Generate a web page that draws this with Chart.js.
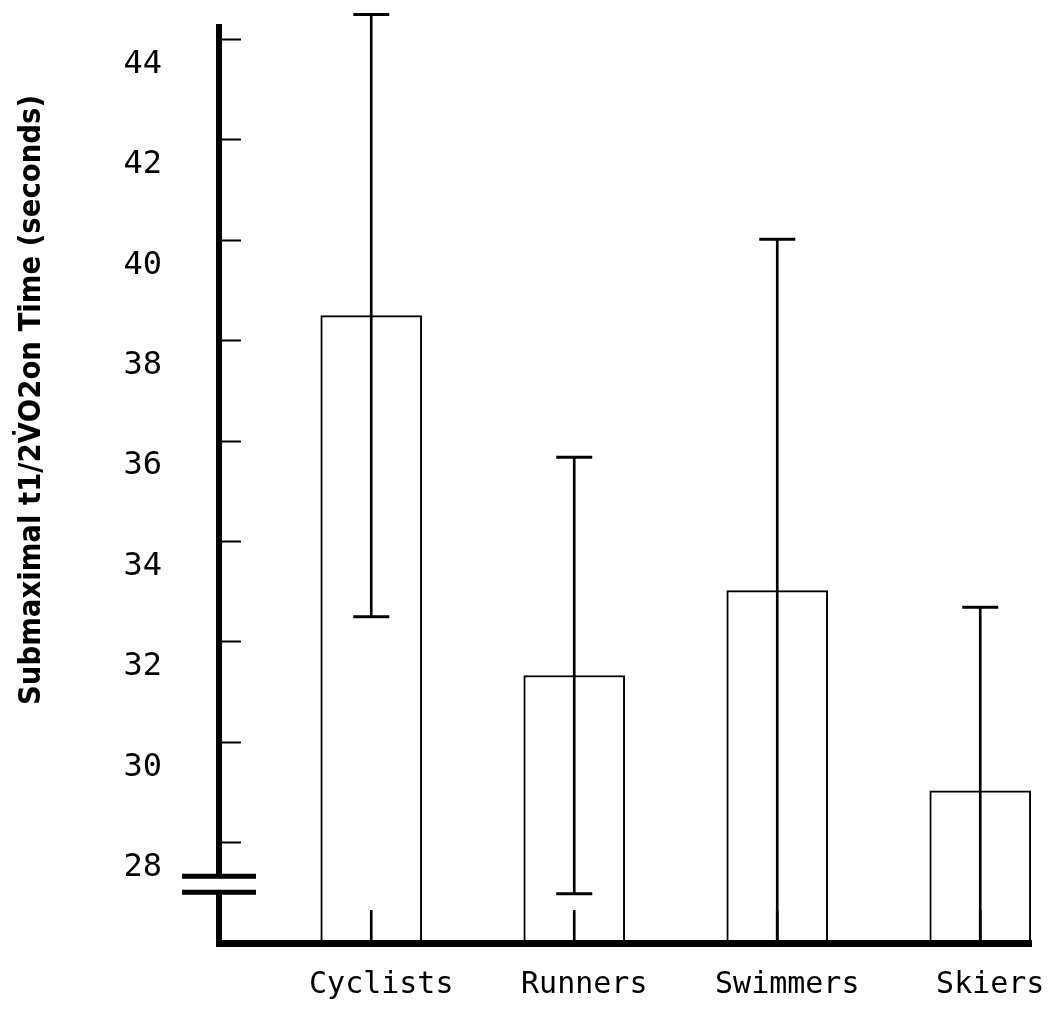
<!DOCTYPE html>
<html>
<head>
<meta charset="utf-8">
<title>Submaximal half-time</title>
<script src="https://cdn.jsdelivr.net/npm/chart.js@4.4.1/dist/chart.umd.min.js"></script>
<style>
body{margin:0;background:#fff;}
canvas{display:block;}
</style>
</head>
<body>
<canvas id="chart" width="1052" height="1013"></canvas>
<script>
// values
const categories=["Cyclists","Runners","Swimmers","Skiers"];
const means=[38.5,31.33,33.02,29.03];
const sd=[6.0,4.35,7.0,3.66];
const stubTop=[26.65,26.65,26.65,26.65];
const yTicks=[28,30,32,34,36,38,40,42,44];
const yMin=26;
const yMax=44.25;
const breakAt=[27.33,27.01];
const yTitle="Submaximal t1/2V\u0307O2on Time (seconds)";

const xs=categories.map((c,i)=>i+1);

const barData=means.map((m,i)=>({x:xs[i],y:m}));
const whiskerData=means.map((m,i)=>({x:xs[i],y:[m-sd[i],m+sd[i]]}));
const stubData=stubTop.map((t,i)=>({x:xs[i],y:[yMin,t]}));
const capData=[];
means.forEach((m,i)=>{
capData.push({x:xs[i],y:m+sd[i]});
if(m-sd[i]>yMin+0.1){
capData.push({x:xs[i],y:m-sd[i]});
}
});

const titlePlugin={
id:"ytitle",
afterDraw(chart){
const c=chart.ctx;
c.save();
c.translate(32,400);
c.rotate(-Math.PI/2);
c.font="bold 30px 'DejaVu Sans'";
const w=c.measureText(yTitle).width;
c.scale(610/w,1);
c.textAlign="center";
c.textBaseline="middle";
c.fillStyle="#000";
c.fillText(yTitle,0,0);
c.restore();
}
};

const breakPlugin={
id:"axisBreak",
afterDraw(chart){
const y=chart.scales.y;
const x0=chart.chartArea.left;
const c=chart.ctx;
const p1=y.getPixelForValue(breakAt[0]);
const p2=y.getPixelForValue(breakAt[1]);
c.save();
c.fillStyle="#fff";
c.fillRect(x0-6,p1,12,p2-p1);
c.strokeStyle="#000";
c.lineWidth=5;
[p1,p2].forEach(p=>{
c.beginPath();
c.moveTo(x0-37,p);
c.lineTo(x0+37,p);
c.stroke();
});
c.restore();
}
};

new Chart(document.getElementById("chart"),{
type:"bar",
data:{
datasets:[
{label:"mean",data:barData,backgroundColor:"#fff",borderColor:"#000",borderWidth:2,barThickness:101,grouped:false,order:4},
{label:"stub",data:stubData,backgroundColor:"#000",borderWidth:0,barThickness:2,grouped:false,order:3},
{label:"sd",data:whiskerData,backgroundColor:"#000",borderWidth:0,barThickness:2,grouped:false,order:2,clip:{left:false,top:false,right:false,bottom:0}},
{type:"line",label:"caps",data:capData,showLine:false,pointStyle:"line",pointRadius:18,pointBorderWidth:3,pointBorderColor:"#000",borderColor:"#000",order:1,clip:false}
]
},
options:{
responsive:false,
animation:false,
layout:{padding:{top:27,right:19,left:0,bottom:0}},
plugins:{legend:{display:false},tooltip:{enabled:false}},
scales:{
x:{
type:"linear",
min:0.25,
max:4.25,
offset:false,
afterBuildTicks:s=>{s.ticks=xs.map(v=>({value:v}));},
afterFit:s=>{s.height=70;s.paddingLeft=0;s.paddingRight=0;},
grid:{display:false,drawTicks:false},
border:{display:true,color:"#000",width:7,z:1},
ticks:{color:"#000",font:{family:"DejaVu Sans Mono",size:30},padding:24,labelOffset:10,maxRotation:0,autoSkip:false,callback:v=>categories[v-1]}
},
y:{
min:yMin,
max:yMax,
afterBuildTicks:s=>{s.ticks=yTicks.map(v=>({value:v}));},
afterFit:s=>{s.width=219;s.paddingTop=0;s.paddingBottom=0;},
grid:{drawOnChartArea:false,drawTicks:true,tickLength:-22,tickWidth:2,tickColor:"#000"},
border:{color:"#000",width:6,z:1},
ticks:{color:"#000",font:{family:"DejaVu Sans Mono",size:32},padding:79,labelOffset:25,autoSkip:false}
}
}
},
plugins:[titlePlugin,breakPlugin]
});
</script>
</body>
</html>
